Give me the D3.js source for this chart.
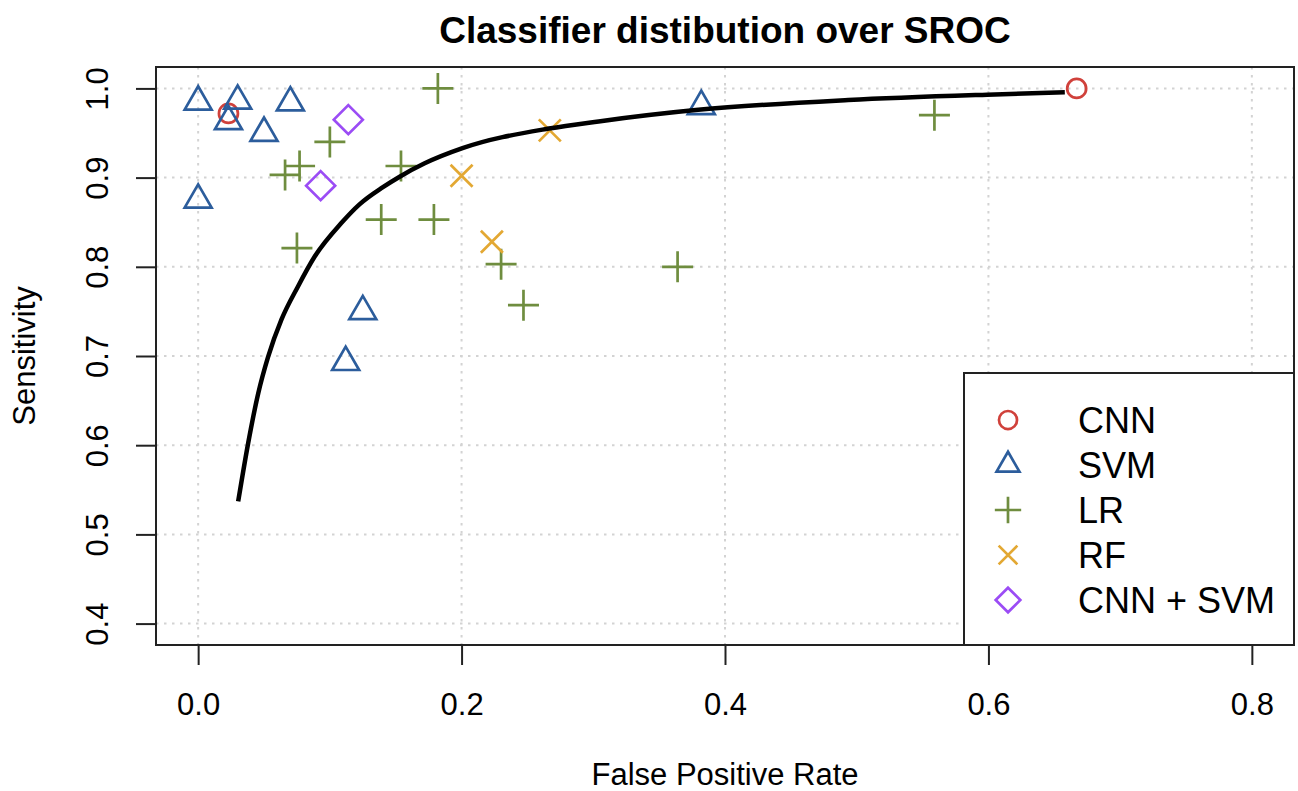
<!DOCTYPE html>
<meta charset="utf-8">
<style>
    body { margin: 0; background: #fff; }
    svg { font-family: "Liberation Sans", Arial, sans-serif; }
    .grid line { stroke: #d3d3d3; stroke-width: 2; stroke-dasharray: 2.5 5.5; }
    .axis text { font-size: 31px; fill: #000; }
    .axis line { stroke: #222; stroke-width: 2; }
    .mark { fill: none; stroke-width: 2.7; }
</style>
<svg width="1298" height="791"></svg>
<script src="https://cdn.jsdelivr.net/npm/d3@7"></script>
<script>
    // point data: [false positive rate, sensitivity]
    var groups = ["CNN", "SVM", "LR", "RF", "CNN + SVM"];
    var colors = ["#d0413b", "#2c5d9c", "#6f8d3f", "#e3a833", "#9b4cf5"];
    var shapes = ["circle", "triangle", "plus", "cross", "diamond"];

    var cnnPts = [[0.667, 1.0], [0.023, 0.972]];
    var svmPts = [[0.0, 0.985], [0.030, 0.986], [0.070, 0.984], [0.023, 0.963], [0.050, 0.950],
        [0.0, 0.875], [0.125, 0.750], [0.112, 0.693], [0.382, 0.980]];
    var lrPts = [[0.182, 1.0], [0.100, 0.940], [0.077, 0.913], [0.066, 0.903], [0.154, 0.913],
        [0.139, 0.853], [0.179, 0.853], [0.075, 0.821], [0.230, 0.803], [0.247, 0.757],
        [0.559, 0.970], [0.364, 0.800]];
    var rfPts = [[0.267, 0.953], [0.200, 0.902], [0.223, 0.828]];
    var cnnSvmPts = [[0.114, 0.965], [0.093, 0.891]];

    // SROC curve
    var srocX = [0.0304, 0.038, 0.0456, 0.0531, 0.0633, 0.0758, 0.0885, 0.1087, 0.1225, 0.140,
        0.153, 0.172, 0.2007, 0.2663, 0.304, 0.3797, 0.4935, 0.599, 0.658];
    var srocY = [0.537, 0.6025, 0.658, 0.699, 0.741, 0.778, 0.8115, 0.849, 0.870, 0.889,
        0.901, 0.916, 0.933, 0.955, 0.963, 0.976, 0.987, 0.993, 0.9956];

    var xTicks = [0, 0.2, 0.4, 0.6, 0.8],
        yTicks = [0.4, 0.5, 0.6, 0.7, 0.8, 0.9, 1.0];

    var svg = d3.select("svg"),
        box = { left: 156, right: 1294, top: 67, bottom: 645 };

    // R style: 4% padding around xlim = c(0, 0.8), ylim = c(0.4, 1)
    var x = d3.scaleLinear().domain([-0.032, 0.832]).range([box.left, box.right]),
        y = d3.scaleLinear().domain([0.376, 1.024]).range([box.bottom, box.top]);

    // dotted grid
    var grid = svg.append("g").attr("class", "grid");
    grid.selectAll(".gx").data(xTicks).enter().append("line")
        .attr("x1", function (d) { return x(d); }).attr("x2", function (d) { return x(d); })
        .attr("y1", box.top).attr("y2", box.bottom);
    grid.selectAll(".gy").data(yTicks).enter().append("line")
        .attr("y1", function (d) { return y(d); }).attr("y2", function (d) { return y(d); })
        .attr("x1", box.left).attr("x2", box.right);

    // marker shapes (R pch 1..5), s = size unit
    var shapePath = function (shape, s) {
        var p = d3.path();
        if (shape === "circle") {
            p.arc(0, 0, s * 0.95, 0, 2 * Math.PI);
        } else if (shape === "triangle") {
            p.moveTo(0, -s * 1.555);
            p.lineTo(s * 1.347, s * 0.778);
            p.lineTo(-s * 1.347, s * 0.778);
            p.closePath();
        } else if (shape === "plus") {
            var a = s * 1.55;
            p.moveTo(-a, 0); p.lineTo(a, 0);
            p.moveTo(0, -a); p.lineTo(0, a);
        } else if (shape === "cross") {
            var b = s * 1.1;
            p.moveTo(-b, -b); p.lineTo(b, b);
            p.moveTo(-b, b); p.lineTo(b, -b);
        } else {
            var c = s * 1.45;
            p.moveTo(0, -c); p.lineTo(c, 0); p.lineTo(0, c); p.lineTo(-c, 0);
            p.closePath();
        }
        return p.toString();
    };

    var allPts = [cnnPts, svmPts, lrPts, rfPts, cnnSvmPts];
    var marks = svg.append("g");
    allPts.forEach(function (pts, i) {
        marks.selectAll(null).data(pts).enter().append("path")
            .attr("class", "mark")
            .attr("stroke", colors[i])
            .attr("transform", function (d) { return "translate(" + x(d[0]) + "," + y(d[1]) + ")"; })
            .attr("d", shapePath(shapes[i], 10));
    });

    // SROC line
    var curve = d3.zip(srocX, srocY);
    svg.append("path")
        .datum(curve)
        .attr("fill", "none")
        .attr("stroke", "#000")
        .attr("stroke-width", 4.5)
        .attr("d", d3.line()
            .x(function (d) { return x(d[0]); })
            .y(function (d) { return y(d[1]); })
            .curve(d3.curveMonotoneX));

    // axes
    svg.append("g")
        .attr("class", "axis")
        .attr("transform", "translate(0," + box.bottom + ")")
        .call(d3.axisBottom(x).tickValues(xTicks).tickFormat(d3.format(".1f")).tickSize(20).tickSizeOuter(0))
        .call(function (g) { g.select(".domain").remove(); })
        .call(function (g) { g.selectAll(".tick text").attr("y", 70).attr("dy", null); });

    svg.append("g")
        .attr("class", "axis")
        .attr("transform", "translate(" + box.left + ",0)")
        .call(d3.axisLeft(y).tickValues(yTicks).tickFormat(d3.format(".1f")).tickSize(20).tickSizeOuter(0))
        .call(function (g) { g.select(".domain").remove(); })
        .call(function (g) {
            g.selectAll(".tick text")
                .attr("x", null).attr("dy", null)
                .attr("text-anchor", "middle")
                .attr("transform", "translate(-48,0) rotate(-90)");
        });

    // plot frame
    svg.append("rect")
        .attr("x", box.left).attr("y", box.top)
        .attr("width", box.right - box.left).attr("height", box.bottom - box.top)
        .attr("fill", "none").attr("stroke", "#222").attr("stroke-width", 2);

    // titles
    svg.append("text")
        .attr("x", (box.left + box.right) / 2).attr("y", 43)
        .attr("text-anchor", "middle")
        .style("font-size", "37px").style("font-weight", "bold")
        .text("Classifier distibution over SROC");

    svg.append("text")
        .attr("x", (box.left + box.right) / 2).attr("y", 785)
        .attr("text-anchor", "middle")
        .style("font-size", "31px")
        .text("False Positive Rate");

    svg.append("text")
        .attr("transform", "translate(35," + (box.top + box.bottom) / 2 + ") rotate(-90)")
        .attr("text-anchor", "middle")
        .style("font-size", "31px")
        .text("Sensitivity");

    // legend, bottom right
    var lg = svg.append("g");
    lg.append("rect")
        .attr("x", 964).attr("y", 373)
        .attr("width", box.right - 964).attr("height", box.bottom - 373)
        .attr("fill", "#fff").attr("stroke", "#222").attr("stroke-width", 2);

    var rows = lg.selectAll(".row").data(groups).enter().append("g")
        .attr("transform", function (d, i) { return "translate(0," + (420 + i * 45) + ")"; });
    rows.append("path")
        .attr("class", "mark")
        .attr("stroke", function (d, i) { return colors[i]; })
        .attr("transform", "translate(1008,0)")
        .attr("d", function (d, i) { return shapePath(shapes[i], i === 0 ? 9.5 : 8.5); });
    rows.append("text")
        .attr("x", 1078).attr("y", 13)
        .style("font-size", "36px")
        .text(function (d) { return d; });
</script>
